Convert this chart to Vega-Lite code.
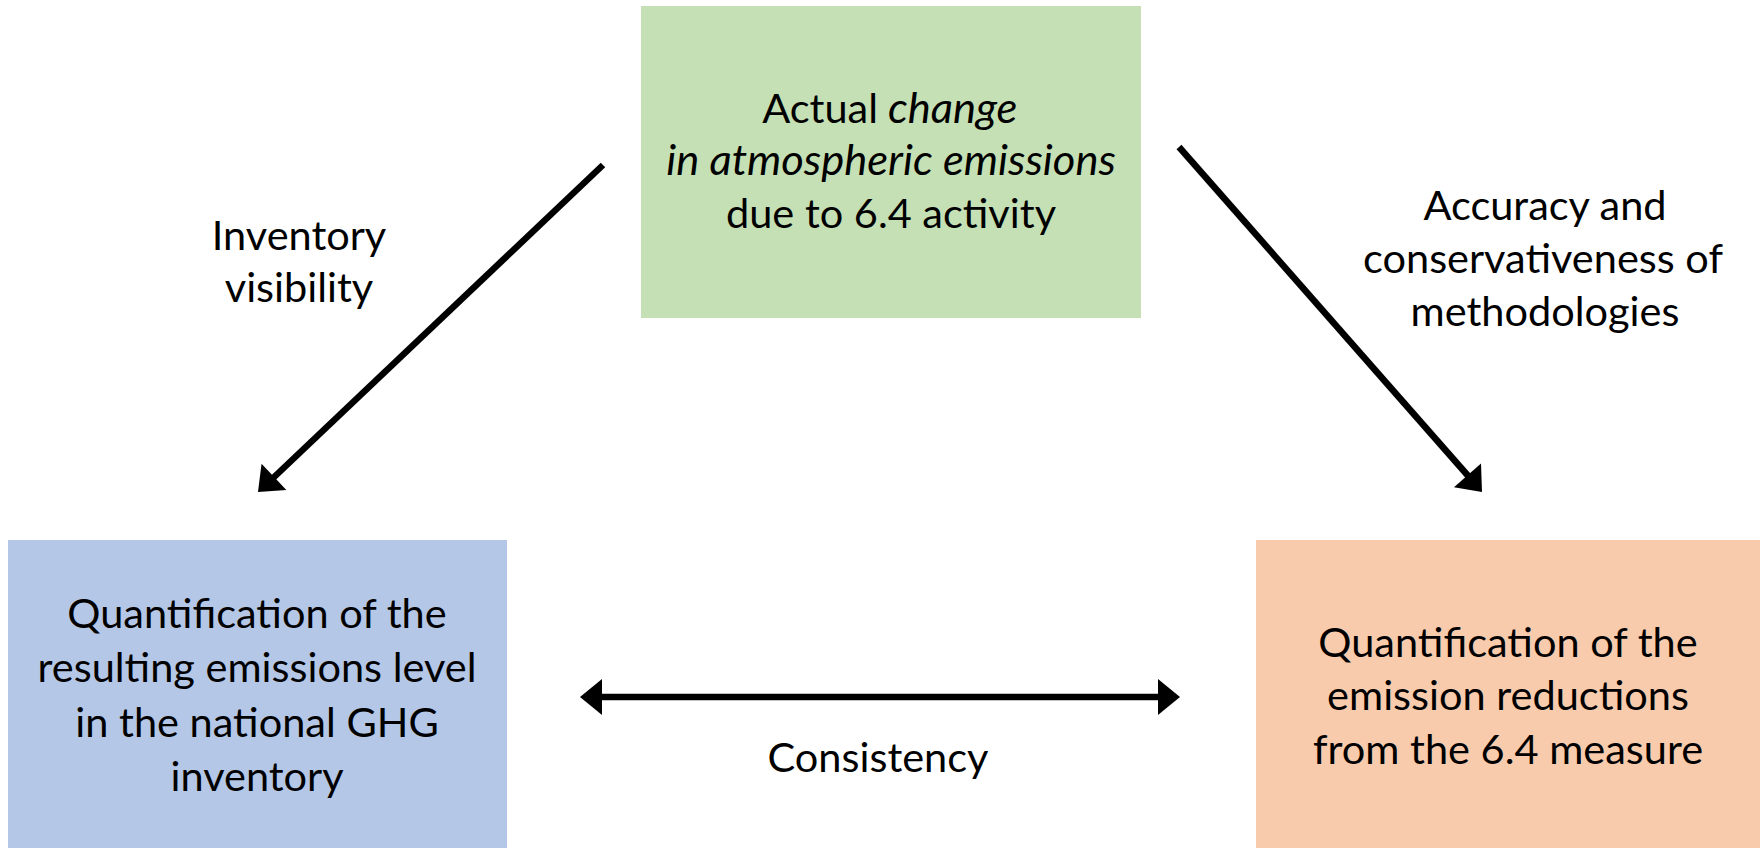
{
  "$schema": "https://vega.github.io/schema/vega-lite/v6.json",
  "width": 1760,
  "height": 848,
  "padding": 0,
  "autosize": {"type": "none"},
  "background": "white",
  "config": {"view": {"stroke": null}},
  "datasets": {
    "boxes": [
      {"box": "activity", "x": 641, "x2": 1141, "y": 6, "y2": 318},
      {"box": "inventory", "x": 8, "x2": 507, "y": 540, "y2": 848},
      {"box": "reductions", "x": 1256, "x2": 1760, "y": 540, "y2": 848}
    ],
    "lines": [
      {"arrow": "visibility", "x": 603, "y": 165, "x2": 271, "y2": 480},
      {"arrow": "accuracy", "x": 1179, "y": 147, "x2": 1470, "y2": 478},
      {"arrow": "consistency", "x": 600, "y": 697, "x2": 1160, "y2": 697}
    ],
    "heads": [
      {"head": "visibility", "x": 258, "y": 492},
      {"head": "accuracy", "x": 1482, "y": 492},
      {"head": "consistency-left", "x": 580, "y": 697},
      {"head": "consistency-right", "x": 1180, "y": 697}
    ],
    "centered": [
      {"text": "in atmospheric emissions", "x": 891, "y": 175, "italic": true},
      {"text": "due to 6.4 activity", "x": 891, "y": 228, "italic": false},
      {"text": "Quantification of the", "x": 257, "y": 628, "italic": false},
      {"text": "resulting emissions level", "x": 257, "y": 682, "italic": false},
      {"text": "in the national GHG", "x": 257, "y": 737, "italic": false},
      {"text": "inventory", "x": 257, "y": 791, "italic": false},
      {"text": "Quantification of the", "x": 1508, "y": 657, "italic": false},
      {"text": "emission reductions", "x": 1508, "y": 710, "italic": false},
      {"text": "from the 6.4 measure", "x": 1508, "y": 764, "italic": false},
      {"text": "Inventory", "x": 299, "y": 250, "italic": false},
      {"text": "visibility", "x": 299, "y": 302, "italic": false},
      {"text": "Accuracy and", "x": 1545, "y": 220, "italic": false},
      {"text": "conservativeness of", "x": 1543, "y": 273, "italic": false},
      {"text": "methodologies", "x": 1545, "y": 326, "italic": false},
      {"text": "Consistency", "x": 878, "y": 772, "italic": false}
    ],
    "first": [
      {"text": "Actual", "x": 878, "y": 123}
    ],
    "firstItalic": [
      {"text": "change", "x": 888, "y": 123}
    ]
  },
  "layer": [
    {
      "data": {"name": "boxes"},
      "mark": {"type": "rect", "strokeWidth": 0},
      "encoding": {
        "x": {"field": "x", "type": "quantitative", "scale": {"domain": [0, 1760], "nice": false, "zero": false}, "axis": null},
        "x2": {"field": "x2"},
        "y": {"field": "y", "type": "quantitative", "scale": {"domain": [0, 848], "reverse": true, "nice": false, "zero": false}, "axis": null},
        "y2": {"field": "y2"},
        "color": {"field": "box", "type": "nominal", "scale": {"domain": ["activity", "inventory", "reductions"], "range": ["#C5E0B4", "#B4C7E7", "#F8CBAD"]}, "legend": null}
      }
    },
    {
      "data": {"name": "lines"},
      "mark": {"type": "rule", "color": "black", "strokeWidth": 6.5, "strokeCap": "butt"},
      "encoding": {
        "x": {"field": "x", "type": "quantitative"},
        "x2": {"field": "x2"},
        "y": {"field": "y", "type": "quantitative"},
        "y2": {"field": "y2"}
      }
    },
    {
      "data": {"name": "heads"},
      "transform": [{"filter": "datum.head === 'visibility'"}],
      "mark": {"type": "point", "shape": "M0,0L-18,22L18,22Z", "size": 4, "filled": true, "color": "black", "opacity": 1, "strokeWidth": 0, "angle": 226.5},
      "encoding": {
        "x": {"field": "x", "type": "quantitative"},
        "y": {"field": "y", "type": "quantitative"}
      }
    },
    {
      "data": {"name": "heads"},
      "transform": [{"filter": "datum.head === 'accuracy'"}],
      "mark": {"type": "point", "shape": "M0,0L-18,22L18,22Z", "size": 4, "filled": true, "color": "black", "opacity": 1, "strokeWidth": 0, "angle": 138.7},
      "encoding": {
        "x": {"field": "x", "type": "quantitative"},
        "y": {"field": "y", "type": "quantitative"}
      }
    },
    {
      "data": {"name": "heads"},
      "transform": [{"filter": "datum.head === 'consistency-left'"}],
      "mark": {"type": "point", "shape": "M0,0L-18,22L18,22Z", "size": 4, "filled": true, "color": "black", "opacity": 1, "strokeWidth": 0, "angle": 270},
      "encoding": {
        "x": {"field": "x", "type": "quantitative"},
        "y": {"field": "y", "type": "quantitative"}
      }
    },
    {
      "data": {"name": "heads"},
      "transform": [{"filter": "datum.head === 'consistency-right'"}],
      "mark": {"type": "point", "shape": "M0,0L-18,22L18,22Z", "size": 4, "filled": true, "color": "black", "opacity": 1, "strokeWidth": 0, "angle": 90},
      "encoding": {
        "x": {"field": "x", "type": "quantitative"},
        "y": {"field": "y", "type": "quantitative"}
      }
    },
    {
      "data": {"name": "centered"},
      "transform": [{"filter": "!datum.italic"}],
      "mark": {"type": "text", "font": "Lato", "fontSize": 41.5, "color": "black", "align": "center", "baseline": "alphabetic"},
      "encoding": {
        "x": {"field": "x", "type": "quantitative"},
        "y": {"field": "y", "type": "quantitative"},
        "text": {"field": "text"}
      }
    },
    {
      "data": {"name": "centered"},
      "transform": [{"filter": "datum.italic"}],
      "mark": {"type": "text", "font": "Lato", "fontSize": 43.5, "fontStyle": "italic", "color": "black", "align": "center", "baseline": "alphabetic"},
      "encoding": {
        "x": {"field": "x", "type": "quantitative"},
        "y": {"field": "y", "type": "quantitative"},
        "text": {"field": "text"}
      }
    },
    {
      "data": {"name": "first"},
      "mark": {"type": "text", "font": "Lato", "fontSize": 41.5, "color": "black", "align": "right", "baseline": "alphabetic"},
      "encoding": {
        "x": {"field": "x", "type": "quantitative"},
        "y": {"field": "y", "type": "quantitative"},
        "text": {"field": "text"}
      }
    },
    {
      "data": {"name": "firstItalic"},
      "mark": {"type": "text", "font": "Lato", "fontSize": 43.5, "fontStyle": "italic", "color": "black", "align": "left", "baseline": "alphabetic"},
      "encoding": {
        "x": {"field": "x", "type": "quantitative"},
        "y": {"field": "y", "type": "quantitative"},
        "text": {"field": "text"}
      }
    }
  ]
}
